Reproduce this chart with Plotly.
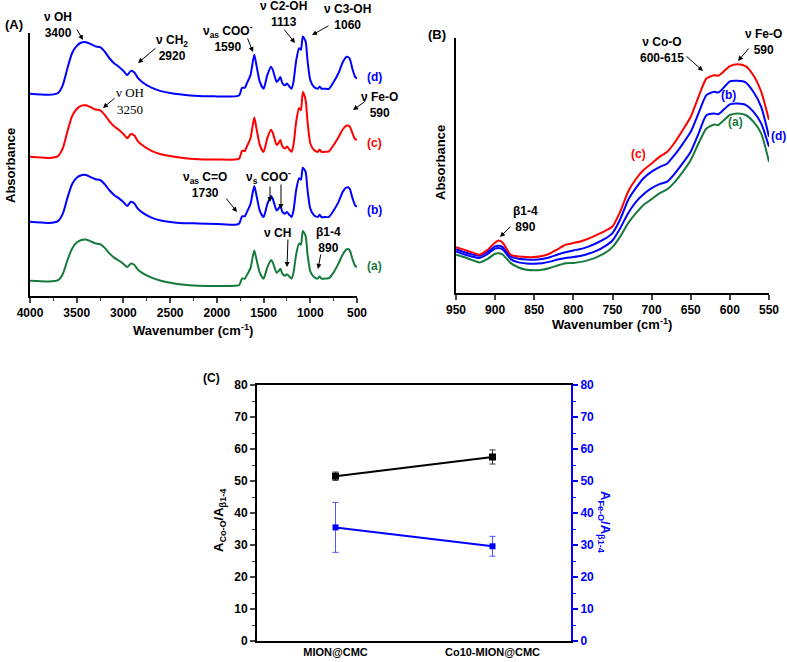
import plotly.graph_objects as go

# ---------- panel A: full FTIR spectra ----------
wn_A = [4000, 3800, 3700, 3650, 3600, 3550, 3500, 3450, 3400, 3350, 3300, 3250, 3200, 3150,
        3100, 3050, 3000, 2960, 2920, 2880, 2850, 2800, 2700, 2600, 2500, 2400, 2200, 2000,
        1800, 1760, 1730, 1700, 1680, 1640, 1600, 1580, 1540, 1500, 1460, 1420, 1400, 1360,
        1340, 1320, 1300, 1270, 1250, 1220, 1200, 1180, 1150, 1120, 1100, 1080, 1050, 1030,
        1000, 960, 920, 900, 880, 850, 800, 750, 700, 650, 610, 580, 550, 520, 500]

abs_A_a = [0.058, 0.055, 0.060, 0.083, 0.135, 0.180, 0.203, 0.213, 0.215, 0.208, 0.200, 0.197,
           0.183, 0.162, 0.146, 0.135, 0.122, 0.110, 0.123, 0.117, 0.102, 0.088, 0.070, 0.058,
           0.050, 0.045, 0.039, 0.038, 0.039, 0.042, 0.066, 0.066, 0.079, 0.106, 0.173, 0.146,
           0.088, 0.066, 0.109, 0.137, 0.126, 0.088, 0.094, 0.104, 0.085, 0.077, 0.083, 0.072,
           0.066, 0.088, 0.160, 0.200, 0.195, 0.247, 0.228, 0.160, 0.094, 0.072, 0.066, 0.074,
           0.066, 0.066, 0.068, 0.090, 0.122, 0.160, 0.178, 0.175, 0.142, 0.115, 0.110]

abs_A_b = [0.282, 0.278, 0.285, 0.312, 0.372, 0.425, 0.450, 0.459, 0.460, 0.452, 0.444, 0.441,
           0.425, 0.402, 0.384, 0.372, 0.357, 0.342, 0.358, 0.351, 0.334, 0.318, 0.298, 0.287,
           0.281, 0.278, 0.276, 0.274, 0.271, 0.276, 0.303, 0.303, 0.318, 0.350, 0.418, 0.390,
           0.324, 0.300, 0.349, 0.380, 0.368, 0.325, 0.332, 0.344, 0.321, 0.313, 0.319, 0.307,
           0.300, 0.325, 0.405, 0.448, 0.442, 0.488, 0.472, 0.405, 0.332, 0.307, 0.300, 0.309,
           0.300, 0.300, 0.301, 0.325, 0.356, 0.398, 0.413, 0.409, 0.374, 0.345, 0.340]

abs_A_c = [0.529, 0.525, 0.532, 0.561, 0.625, 0.683, 0.711, 0.724, 0.725, 0.718, 0.709, 0.706,
           0.689, 0.664, 0.645, 0.632, 0.616, 0.600, 0.616, 0.609, 0.591, 0.574, 0.552, 0.539,
           0.532, 0.527, 0.520, 0.519, 0.519, 0.523, 0.552, 0.552, 0.568, 0.600, 0.679, 0.645,
           0.574, 0.548, 0.600, 0.632, 0.619, 0.574, 0.581, 0.593, 0.570, 0.561, 0.568, 0.555,
           0.548, 0.574, 0.665, 0.715, 0.706, 0.776, 0.745, 0.665, 0.581, 0.555, 0.548, 0.557,
           0.548, 0.548, 0.550, 0.574, 0.603, 0.635, 0.648, 0.645, 0.620, 0.596, 0.594]

abs_A_d = [0.769, 0.765, 0.772, 0.801, 0.865, 0.923, 0.951, 0.964, 0.965, 0.958, 0.949, 0.946,
           0.929, 0.904, 0.885, 0.872, 0.856, 0.840, 0.856, 0.849, 0.831, 0.814, 0.792, 0.779,
           0.772, 0.767, 0.760, 0.759, 0.759, 0.763, 0.792, 0.792, 0.808, 0.840, 0.917, 0.885,
           0.814, 0.788, 0.840, 0.872, 0.859, 0.814, 0.821, 0.833, 0.810, 0.801, 0.808, 0.795,
           0.788, 0.814, 0.897, 0.942, 0.936, 0.987, 0.968, 0.897, 0.821, 0.795, 0.788, 0.797,
           0.788, 0.788, 0.788, 0.814, 0.846, 0.891, 0.910, 0.904, 0.865, 0.833, 0.827]

# ---------- panel B: 950-550 zoom ----------
wn_B = [950, 940, 930, 920, 910, 900, 895, 890, 880, 870, 860, 850, 840, 830, 820, 810, 800,
        790, 780, 770, 760, 750, 740, 730, 720, 710, 700, 690, 680, 670, 660, 650, 640, 630,
        620, 615, 610, 600, 590, 580, 570, 560, 550]

abs_B_a = [0.150, 0.141, 0.130, 0.120, 0.133, 0.154, 0.156, 0.150, 0.117, 0.100, 0.091, 0.089,
           0.091, 0.098, 0.108, 0.117, 0.118, 0.122, 0.130, 0.141, 0.156, 0.180, 0.222, 0.274,
           0.313, 0.346, 0.368, 0.391, 0.407, 0.437, 0.476, 0.522, 0.587, 0.645, 0.661, 0.658,
           0.671, 0.698, 0.704, 0.698, 0.672, 0.626, 0.515]

abs_B_b = [0.163, 0.152, 0.143, 0.137, 0.152, 0.174, 0.176, 0.170, 0.133, 0.120, 0.116, 0.115,
           0.117, 0.123, 0.131, 0.137, 0.141, 0.146, 0.155, 0.166, 0.183, 0.206, 0.255, 0.313,
           0.357, 0.388, 0.411, 0.427, 0.437, 0.470, 0.510, 0.554, 0.625, 0.697, 0.704, 0.701,
           0.713, 0.740, 0.743, 0.738, 0.711, 0.665, 0.574]

abs_B_d = [0.172, 0.161, 0.152, 0.146, 0.161, 0.183, 0.185, 0.179, 0.143, 0.134, 0.131, 0.130,
           0.133, 0.140, 0.151, 0.160, 0.167, 0.173, 0.183, 0.196, 0.212, 0.235, 0.290, 0.365,
           0.412, 0.451, 0.476, 0.494, 0.508, 0.544, 0.586, 0.632, 0.705, 0.776, 0.789, 0.786,
           0.798, 0.830, 0.832, 0.826, 0.789, 0.730, 0.613]

abs_B_c = [0.180, 0.170, 0.160, 0.150, 0.168, 0.198, 0.206, 0.196, 0.150, 0.143, 0.141, 0.141,
           0.145, 0.155, 0.172, 0.189, 0.196, 0.203, 0.214, 0.228, 0.243, 0.261, 0.320, 0.398,
           0.447, 0.483, 0.508, 0.534, 0.554, 0.592, 0.640, 0.691, 0.770, 0.841, 0.854, 0.852,
           0.863, 0.890, 0.897, 0.890, 0.854, 0.790, 0.678]

# ---------- panel C: intensity ratios ----------
samples = ["MION@CMC", "Co10-MION@CMC"]
ratio_coo = [51.5, 57.5]
ratio_coo_err = [1.3, 2.2]
ratio_feo = [35.5, 29.6]
ratio_feo_err = [7.8, 3.1]

BLUE = "#0000ff"
RED = "#ff0000"
GREEN = "#167a3c"
FONT = "Liberation Sans, Arial, sans-serif"
W, H = 787, 662

fig = go.Figure()

for y, col in [(abs_A_d, BLUE), (abs_A_c, RED), (abs_A_b, BLUE), (abs_A_a, GREEN)]:
    fig.add_trace(go.Scatter(x=wn_A, y=y, mode="lines", xaxis="x", yaxis="y",
                             line=dict(color=col, width=2, shape="spline", smoothing=0.6),
                             showlegend=False, hoverinfo="skip"))

for y, col in [(abs_B_a, GREEN), (abs_B_b, BLUE), (abs_B_d, BLUE), (abs_B_c, RED)]:
    fig.add_trace(go.Scatter(x=wn_B, y=y, mode="lines", xaxis="x2", yaxis="y2",
                             line=dict(color=col, width=2, shape="spline", smoothing=0.6),
                             showlegend=False, hoverinfo="skip"))

fig.add_trace(go.Scatter(x=samples, y=ratio_coo, mode="lines+markers", xaxis="x3", yaxis="y3",
                         line=dict(color="black", width=2),
                         marker=dict(symbol="square", size=7, color="black"),
                         error_y=dict(type="data", array=ratio_coo_err, color="#333333",
                                      thickness=1, width=3),
                         showlegend=False))
fig.add_trace(go.Scatter(x=samples, y=ratio_feo, mode="lines+markers", xaxis="x3", yaxis="y4",
                         line=dict(color=BLUE, width=2),
                         marker=dict(symbol="square", size=6, color=BLUE),
                         error_y=dict(type="data", array=ratio_feo_err, color="#5555ff",
                                      thickness=1, width=3),
                         showlegend=False))


def px(x, y):
    return x / W, 1 - y / H


tick_font = dict(family=FONT, size=12, color="black", weight="bold")
base_axis = dict(showgrid=False, zeroline=False, showline=True, linecolor="black",
                 linewidth=2, ticks="outside", tickwidth=1.5, ticklen=5,
                 tickfont=tick_font, automargin=False)
plain_y = dict(showgrid=False, zeroline=False, showline=True, linecolor="black",
               linewidth=2, showticklabels=False, ticks="", automargin=False)

fig.update_layout(
    width=W, height=H,
    margin=dict(l=0, r=0, t=0, b=0, pad=0),
    plot_bgcolor="white", paper_bgcolor="white",
    font=dict(family=FONT, color="black"),
    xaxis=dict(base_axis, domain=[30 / W, 357 / W], range=[4000, 500], dtick=500,
               minor=dict(dtick=250, ticks="outside", ticklen=3, tickwidth=1.2),
               anchor="y"),
    yaxis=dict(plain_y, domain=[1 - 296 / H, 1 - 33 / H], range=[0, 1], anchor="x"),
    xaxis2=dict(base_axis, domain=[456 / W, 769 / W], range=[950, 550], dtick=50,
                anchor="y2"),
    yaxis2=dict(plain_y, domain=[1 - 293 / H, 1 - 38 / H], range=[0, 1], anchor="x2"),
    xaxis3=dict(base_axis, domain=[257 / W, 571 / W], type="category", range=[-0.5, 1.5],
                ticks="", mirror=True, anchor="y3",
                tickfont=dict(family=FONT, size=11, color="black", weight="bold")),
    yaxis3=dict(base_axis, domain=[1 - 641 / H, 1 - 385 / H], range=[0, 80], dtick=10,
                minor=dict(dtick=5, ticks="outside", ticklen=3, tickwidth=1.2),
                anchor="x3"),
    yaxis4=dict(base_axis, overlaying="y3", side="right", anchor="x3", range=[0, 80],
                dtick=10, linecolor=BLUE, tickcolor=BLUE,
                tickfont=dict(family=FONT, size=12, color=BLUE, weight="bold"),
                minor=dict(dtick=5, ticks="outside", ticklen=3, tickwidth=1.2,
                           tickcolor=BLUE)),
)

annots = []


def text(x, y, s, color="black", size=12, bold=True, angle=0, family=FONT):
    xp, yp = px(x, y)
    annots.append(dict(x=xp, y=yp, xref="paper", yref="paper", text=s, showarrow=False,
                       xanchor="center", yanchor="middle", textangle=angle,
                       font=dict(family=family, size=size, color=color,
                                 weight="bold" if bold else "normal")))


def arrow(x0, y0, x1, y1):
    xp, yp = px(x1, y1)
    annots.append(dict(x=xp, y=yp, xref="paper", yref="paper", text="", showarrow=True,
                       ax=x0 - x1, ay=y0 - y1, arrowhead=2, arrowsize=1, arrowwidth=1,
                       arrowcolor="black"))


# panel A
text(14, 24, "(A)", size=13)
text(10, 166, "Absorbance", size=13, angle=-90)
text(193, 330, "Wavenumber (cm<sup>-1</sup>)", size=13)
text(58, 25, "ν OH<br>3400")
arrow(76, 28, 83, 40)
text(172, 48, "ν CH<sub>2</sub><br>2920")
arrow(157, 47, 138, 63)
text(130, 101, "ν OH<br>3250", bold=False, size=13, family="Liberation Serif, serif")
arrow(116, 97, 103, 108)
text(228, 38, "ν<sub>as</sub> COO<sup>-</sup><br>1590")
arrow(247, 37, 253, 52)
text(283, 14, "ν C2-OH<br>1113")
arrow(283, 28, 295, 43)
text(347, 17, "ν C3-OH<br>1060")
arrow(330, 25, 312, 35)
text(379, 105, "ν Fe-O<br>590")
arrow(367, 100, 353, 110)
text(205, 185, "ν<sub>as</sub> C=O<br>1730")
arrow(225, 197, 237, 212)
text(268, 177, "ν<sub>s</sub> COO<sup>-</sup>")
arrow(270, 185, 270, 202)
arrow(281, 183, 281, 209)
text(277, 233, "ν CH")
arrow(288, 238, 287, 267)
text(328, 240, "β1-4<br>890")
arrow(321, 253, 318, 269)
text(374, 77, "(d)", color=BLUE)
text(374, 143, "(c)", color=RED)
text(374, 210, "(b)", color=BLUE)
text(374, 266, "(a)", color=GREEN)

# panel B
text(437, 35, "(B)", size=13)
text(440, 163, "Absorbance", size=13, angle=-90)
text(612, 324, "Wavenumber (cm<sup>-1</sup>)", size=13)
text(662, 50, "ν Co-O<br>600-615")
arrow(685, 55, 703, 71)
text(763, 42, "ν Fe-O<br>590")
arrow(750, 47, 738, 61)
text(525, 219, "β1-4<br>890")
arrow(512, 225, 500, 237)
text(638, 154, "(c)", color=RED)
text(728, 95, "(b)", color=BLUE)
text(735, 122, "(a)", color=GREEN)
text(778, 136, "(d)", color=BLUE)

# panel C
text(212, 378, "(C)", size=12)
text(219, 520, "A<sub>Co-O</sub>/A<sub>β1-4</sub>", size=13, angle=-90)
text(605, 522, "A<sub>Fe-O</sub>/A<sub>β1-4</sub>", size=13, angle=90, color=BLUE)

fig.update_layout(annotations=annots)

# the page's default 8px body margin would shift the figure off the window
fig.write_html("out.html", config={"displayModeBar": False},
               post_script="document.body.style.margin='0';")
